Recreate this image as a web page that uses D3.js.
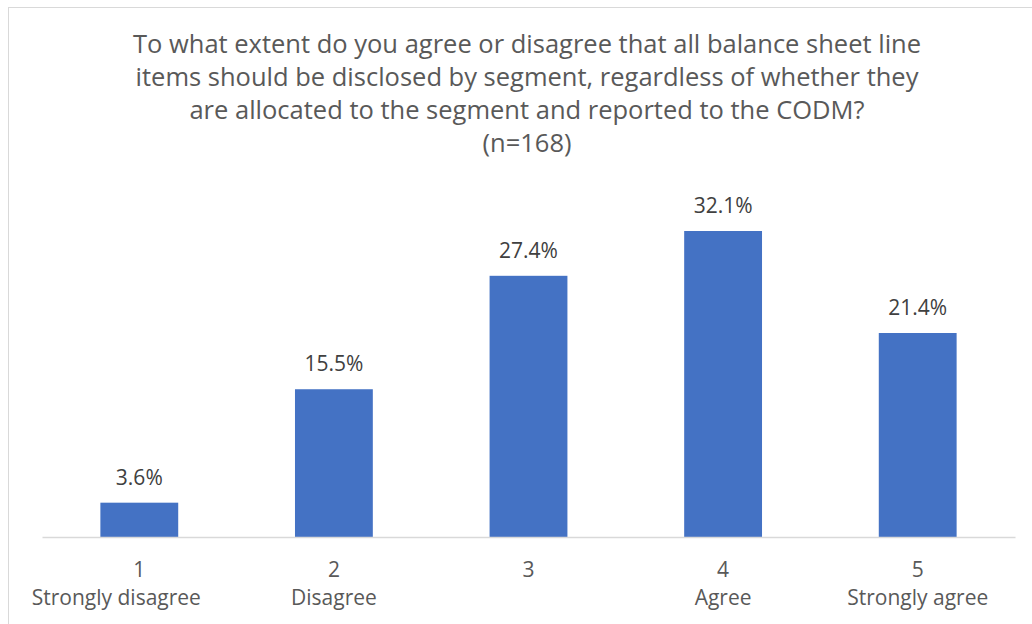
<!DOCTYPE html>
<html>
<head>
<meta charset="utf-8">
<script src="https://cdn.jsdelivr.net/npm/d3@7"></script>
<style>
  body { margin: 0; background: #fff; }
  svg { display: block; font-family: "Open Sans", sans-serif; }
</style>
</head>
<body>
<div id="chart"></div>
<script>
const categories = ['1', '2', '3', '4', '5'];
const categoryNames = ['Strongly disagree', 'Disagree', '', 'Agree', 'Strongly agree'];
const values = [3.6, 15.5, 27.4, 32.1, 21.4];
const titleLines = [
    'To what extent do you agree or disagree that all balance sheet line',
    'items should be disclosed by segment, regardless of whether they',
    'are allocated to the segment and reported to the CODM?',
    '(n=168)'
];

const width = 1032,
    height = 624,
    margin = { left: 42, right: 17, top: 231, bottom: 87 };

const svg = d3.select('#chart')
    .append('svg')
    .attr('width', width)
    .attr('height', height);

// chart area border (runs off the right and bottom edges)
svg.append('rect')
    .attr('x', 8.5)
    .attr('y', 7.5)
    .attr('width', width + 20)
    .attr('height', height + 20)
    .attr('fill', 'none')
    .attr('stroke', '#d9d9d9');

const x = d3.scaleBand()
    .domain(categories)
    .range([margin.left, width - margin.right])
    .paddingInner(0.6)
    .paddingOuter(0.3);

const y = d3.scaleLinear()
    .domain([0, d3.max(values)])
    .range([height - margin.bottom, margin.top]);

svg.append('g')
    .selectAll('text')
    .data(titleLines)
    .join('text')
    .attr('x', 527)
    .attr('y', (d, i) => 53 + i * 33)
    .attr('text-anchor', 'middle')
    .attr('font-size', 25.5)
    .attr('fill', '#595959')
    .text(d => d);

svg.append('g')
    .selectAll('text')
    .data(values)
    .join('text')
    .attr('x', (d, i) => x(categories[i]) + x.bandwidth() / 2)
    .attr('y', d => y(d) - 18)
    .attr('text-anchor', 'middle')
    .attr('font-size', 21)
    .attr('fill', '#404040')
    .text(d => d.toFixed(1) + '%');

svg.append('g')
    .selectAll('rect')
    .data(values)
    .join('rect')
    .attr('x', (d, i) => x(categories[i]))
    .attr('y', d => y(d))
    .attr('width', x.bandwidth())
    .attr('height', d => y(0) - y(d))
    .attr('fill', '#4472c4');

const axis = svg.append('g')
    .attr('transform', `translate(0,${y(0)})`)
    .call(d3.axisBottom(x).tickSize(0).tickFormat(''));
axis.select('.domain').attr('stroke', '#d9d9d9').attr('stroke-width', 1.5);

const labels = svg.append('g')
    .selectAll('g')
    .data(categories)
    .join('g')
    .attr('transform', d => `translate(${x(d) + x.bandwidth() / 2},0)`);

labels.append('text')
    .attr('y', 577)
    .attr('text-anchor', 'middle')
    .attr('font-size', 21)
    .attr('fill', '#595959')
    .text(d => d);

labels.append('text')
    .attr('y', 605)
    .attr('dx', (d, i) => i === 0 ? -23 : 0) // first label sits left of its bar
    .attr('text-anchor', 'middle')
    .attr('font-size', 21)
    .attr('fill', '#595959')
    .text((d, i) => categoryNames[i]);
</script>
</body>
</html>
